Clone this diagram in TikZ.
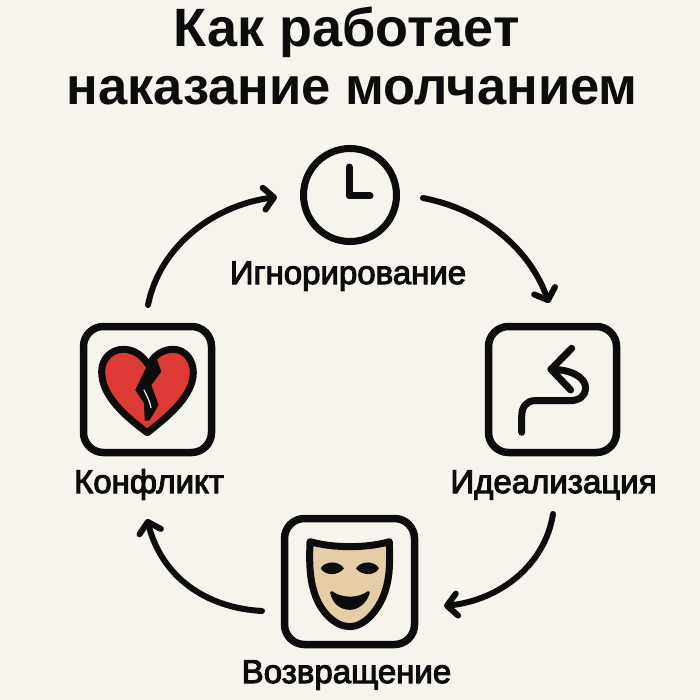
\documentclass[tikz,border=0pt]{standalone}
\usepackage{fontspec}
\setmainfont{Liberation Sans}
\newfontfamily\titlefont{Liberation Sans Bold}
\newfontfamily\labelfont[FakeBold=3.2]{Liberation Sans}
\usetikzlibrary{arrows.meta}
\definecolor{bgc}{HTML}{F7F4EE}
\definecolor{ink}{HTML}{0C0C0C}
\definecolor{heartred}{HTML}{DD3A35}
\definecolor{maskc}{HTML}{E5CEA6}
\tikzset{
  ttl/.style={font=\titlefont\fontsize{52.5}{52.5}\selectfont,text=ink,inner sep=0pt,anchor=base},
  ttlwide/.style={font=\titlefont\fontsize{54}{54}\selectfont,text=ink,inner sep=0pt,anchor=base},
  lbl/.style={font=\labelfont\fontsize{33}{33}\selectfont,text=ink,inner sep=0pt,anchor=base},
  flow/.style={draw=ink,line width=6pt,line cap=round,-{Straight Barb[length=10pt,width=22pt,round,line width=6pt]}},
  iconbox/.style={draw=ink,line width=7.5pt,rounded corners=20pt,fill=none,inner sep=0pt},
  iconline/.style={draw=ink,line width=7pt,line cap=round,line join=round},
}
\begin{document}
\begin{tikzpicture}[x=1pt,y=-1pt]
\path[fill=bgc] (0,0) rectangle (700,700);
\useasboundingbox (0,0) rectangle (700,700);
% title
\node[ttlwide] (t1) at (346.5,47) {Как работает};
\node[ttl] (t2) at (352,105) {наказание молчанием};
% clock
\node[circle,draw=ink,line width=7pt,minimum size=93pt,inner sep=0pt] (clock) at (350,195) {};
\draw[iconline] (349,167) -- (349,196) -- (370,196);
\node[lbl] (lab1) at (348,284) {Игнорирование};
% boxes
\node[iconbox,minimum width=128pt,minimum height=126pt] (heartbox) at (147.5,389.5) {};
\node[iconbox,minimum width=128pt,minimum height=126pt] (pathbox) at (552.5,389.5) {};
\node[iconbox,minimum width=130pt,minimum height=126pt] (maskbox) at (349.5,581.5) {};
\node[lbl] (lab2) at (553.5,493) {Идеализация};
\node[lbl] (lab3) at (346.5,683) {Возвращение};
\node[lbl] (lab4) at (149,493) {Конфликт};
% connectors
\coordinate (a1s) at (423,198); \coordinate (a1e) at (549,303);
\coordinate (a2s) at (553,514); \coordinate (a2e) at (444,606);
\coordinate (a3s) at (262,611); \coordinate (a3e) at (147,519);
\coordinate (a4s) at (148,305); \coordinate (a4e) at (277,197);
\draw[flow] (a1s) .. controls (485,210) and (530,250) .. (a1e);
\draw[flow] (a2s) .. controls (545,565) and (500,600) .. (a2e);
\draw[flow] (a3s) .. controls (207,608) and (162,578) .. (a3e);
\draw[flow] (a4s) .. controls (160,245) and (215,205) .. (a4e);
% heart
\begin{scope}[shift={(60,310)},x=0.3333pt,y=-0.3333pt]
\path[fill=heartred,draw=ink,line width=7pt,line join=round]
  (262,368) .. controls (190,315) and (125,255) .. (125,185)
  .. controls (125,145) and (155,118) .. (190,118)
  .. controls (225,118) and (250,140) .. (265,165)
  -- (285,140)
  .. controls (300,125) and (320,118) .. (340,118)
  .. controls (375,118) and (400,150) .. (400,187)
  .. controls (400,255) and (330,315) .. (262,368) -- cycle;
\path[fill=ink,line join=round]
  (262,165) -- (226,240) -- (252,280) -- (254,332) -- (268,332) -- (296,285) -- (274,225) -- (304,185) -- (288,140) -- cycle;
\draw[bgc,line width=1.2pt,line cap=round] (252,240) .. controls (262,260) and (270,275) .. (273,293);
\end{scope}
% path icon
\begin{scope}[shift={(470,310)},x=0.3333pt,y=-0.3333pt]
\draw[iconline] (155,367) -- (155,320) .. controls (155,290) and (170,272) .. (195,272)
  -- (300,272) .. controls (330,272) and (347,255) .. (347,235)
  .. controls (347,200) and (300,178) .. (243,178);
\draw[iconline] (305,115) -- (243,178) -- (302,240);
\end{scope}
% mask
\begin{scope}[shift={(270,505)},x=0.3333pt,y=-0.3333pt]
\path[fill=maskc,draw=ink,line width=7pt,line join=round]
  (120,110) .. controls (190,130) and (290,130) .. (358,110)
  .. controls (360,170) and (360,215) .. (345,260)
  .. controls (325,320) and (280,365) .. (240,365)
  .. controls (195,365) and (150,320) .. (132,260)
  .. controls (118,215) and (118,165) .. (120,110) -- cycle;
\fill[ink] (152,190) .. controls (165,168) and (205,165) .. (222,190)
  .. controls (205,213) and (165,213) .. (152,190) -- cycle;
\fill[ink] (258,190) .. controls (275,165) and (315,168) .. (327,190)
  .. controls (315,213) and (275,213) .. (258,190) -- cycle;
\path[fill=ink,draw=ink,line width=3pt,line join=round]
  (185,263) .. controls (215,285) and (265,285) .. (295,263)
  .. controls (285,295) and (260,310) .. (240,310)
  .. controls (215,310) and (192,295) .. (185,263) -- cycle;
\end{scope}
\end{tikzpicture}
\end{document}
